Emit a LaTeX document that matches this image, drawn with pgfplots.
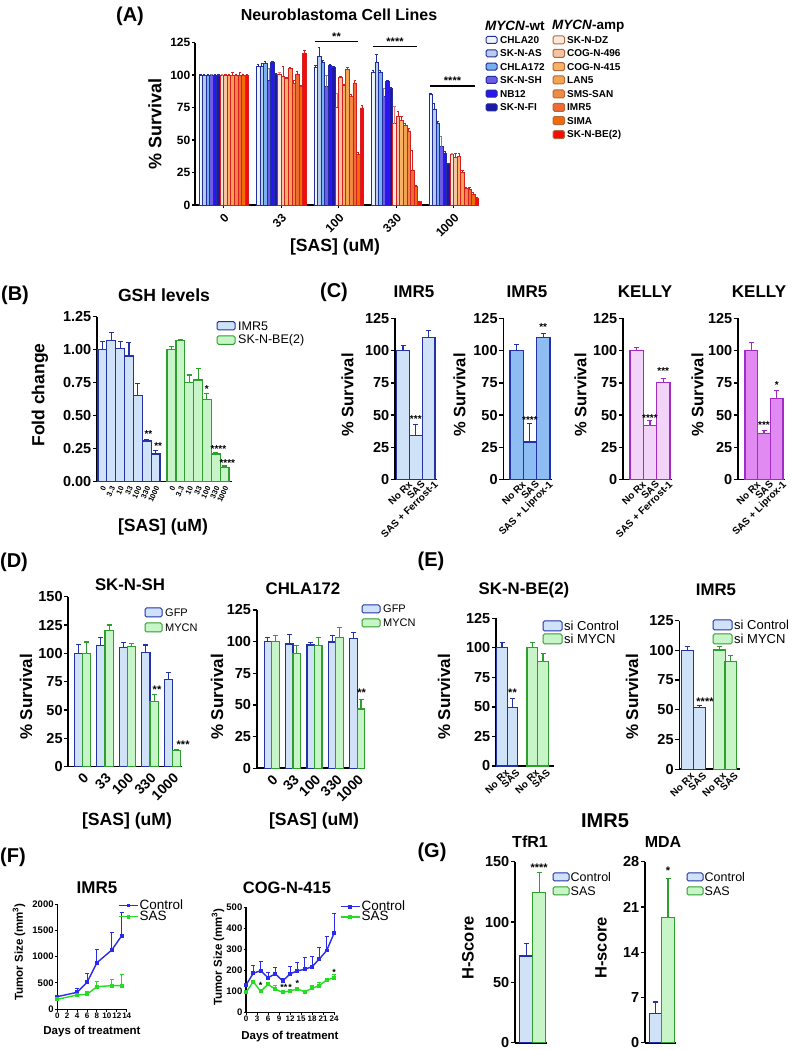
\documentclass[border=0pt]{standalone}
\usepackage{pgfplots}
\pgfplotsset{compat=1.18}
\usepackage{fontspec}
\setmainfont{Liberation Sans}
\newcommand\fsz[1]{\fontsize{#1}{#1}\selectfont}
% colours
\definecolor{bdr}{HTML}{2432A8}
\definecolor{gdr}{HTML}{2E9E2E}
\definecolor{lb}{HTML}{CFE2F8}
\definecolor{lg}{HTML}{C8F5C8}
\definecolor{mb}{HTML}{8DBDF2}
\definecolor{pdr}{HTML}{A32BC4}
\definecolor{lp}{HTML}{F2D4F8}
\definecolor{mp}{HTML}{E08AF2}
\definecolor{wtb}{HTML}{1F2F9F}
\definecolor{amb}{HTML}{D42020}
\definecolor{ambl}{HTML}{B06A40}
\definecolor{a1}{HTML}{EEF4FC}
\definecolor{a2}{HTML}{B9CDEA}
\definecolor{a3}{HTML}{78B0F0}
\definecolor{a4}{HTML}{6C5CE6}
\definecolor{a5}{HTML}{2A14F0}
\definecolor{a6}{HTML}{1E18A6}
\definecolor{b1}{HTML}{FDE8DA}
\definecolor{b2}{HTML}{F6C3A2}
\definecolor{b3}{HTML}{FAB264}
\definecolor{b4}{HTML}{F2A452}
\definecolor{b5}{HTML}{F08846}
\definecolor{b6}{HTML}{EC6C34}
\definecolor{b7}{HTML}{F46A04}
\definecolor{b8}{HTML}{F80A0A}
\definecolor{cblue}{HTML}{2B2BEE}
\definecolor{cgreen}{HTML}{22DD22}
\pgfplotsset{
  myax/.style={
    scale only axis, clip=false, anchor=south west,
    axis x line*=bottom, axis y line*=left,
    axis line style={-, line width=1.6pt, black},
    tick align=outside, major tick length=4pt,
    tick style={black, line width=1.3pt},
    ymin=0, scaled ticks=false,
    /pgf/number format/assume math mode=true,
    /pgf/number format/1000 sep={},
    yticklabel style={font=\bfseries\fsz{14.5}, inner sep=1.5pt},
    xticklabel style={font=\bfseries\fsz{14}},
  },
  eb/.style={error bars/y dir=plus, error bars/y explicit,
    error bars/error bar style={draw=#1, line width=1.1pt},
    error bars/error mark options={rotate=90, draw=#1, line width=1.1pt, mark size=2.5pt}},
  ebs/.style={error bars/y dir=plus, error bars/y explicit,
    error bars/error bar style={draw=#1, line width=0.6pt},
    error bars/error mark options={rotate=90, draw=#1, line width=0.6pt, mark size=1.2pt}},
  ebf/.style={error bars/y dir=plus, error bars/y explicit,
    error bars/error bar style={draw=#1, line width=1pt},
    error bars/error mark options={rotate=90, draw=#1, line width=1pt, mark size=2pt}},
  ctick/.style={xticklabel style={rotate=45, anchor=north east, font=\bfseries\fsz{10}, inner sep=0pt, xshift=6pt, yshift=-1pt},
    xtick style={draw=none}},
  abar/.style={ybar, bar width=3.55pt, bar shift=0pt, line width=0.7pt},
}
\newcommand\Ttl[4]{\node[font=\bfseries\fsz{#3}] at (#1,#2) {#4};}
\newcommand\Trot[4]{\node[font=\bfseries\fsz{#3}, rotate=90] at (#1,#2) {#4};}
\newcommand\Lbox[6]{\draw[line width=1pt, rounded corners=1.5pt, fill=#5, draw=#6] (#1,#2) rectangle (#3,#4);}
\newcommand\Ltxt[4]{\node[anchor=west, font=\fsz{#3}, inner sep=1pt] at (#1,#2) {#4};}
\newcommand\Lbtxt[4]{\node[anchor=west, font=\bfseries\fsz{#3}, inner sep=1pt] at (#1,#2) {#4};}
\begin{document}
\begin{tikzpicture}
\useasboundingbox (0,0) rectangle (793pt,1050pt);
\fill[white] (0,0) rectangle (793pt,1050pt);

% ---------------- Panel A ----------------
\begin{axis}[myax, at={(195pt,845pt)}, width=284pt, height=162.3pt,
  xmin=-0.5, xmax=4.44, ymax=125, ytick={0,25,...,125},
  xtick={0,...,4}, xticklabels={0,33,100,330,1000},
  yticklabel style={font=\bfseries\fsz{12}},
  xticklabel style={rotate=45, anchor=north east, font=\bfseries\fsz{12}},
  major tick length=3pt]
\addplot[abar, fill=a1, draw=wtb, ebs=wtb] coordinates {(-0.4014,100)+-(0,1) (0.5986,107)+-(0,1) (1.5986,106)+-(0,1.5) (2.5986,102.5)+-(0,1.5) (3.5986,85)+-(0,1)};
\addplot[abar, fill=a2, draw=wtb, ebs=wtb] coordinates {(-0.3396,100)+-(0,0.5) (0.6604,107)+-(0,2) (1.6604,114.7)+-(0,6.8) (2.6604,110)+-(0,6) (3.6604,74)+-(0,4.5)};
\addplot[abar, fill=a3, draw=wtb, ebs=wtb] coordinates {(-0.2779,100)+-(0,0.5) (0.7221,109)+-(0,1.5) (1.7221,109.6)+-(0,2) (2.7221,102.5)+-(0,1) (3.7221,63)+-(0,1.5)};
\addplot[abar, fill=a4, draw=wtb, ebs=gray] coordinates {(-0.2161,100)+-(0,0.5) (0.7839,96)+-(0,9) (1.7839,91)+-(0,9) (2.7839,83.5)+-(0,6.5) (3.7839,45)+-(0,8)};
\addplot[abar, fill=a5, draw=wtb, ebs=wtb] coordinates {(-0.1544,100)+-(0,0.5) (0.8456,110)+-(0,1) (1.8456,107.6)+-(0,1) (2.8456,95.4)+-(0,1) (3.8456,40)+-(0,1)};
\addplot[abar, fill=a6, draw=wtb, ebs=wtb] coordinates {(-0.0926,100)+-(0,0.5) (0.9074,101)+-(0,0.5) (1.9074,106.3)+-(0,0.5) (2.9074,90)+-(0,0.5) (3.9074,31)+-(0,1)};
\addplot[abar, fill=b1, draw=amb, ebs=amb!60] coordinates {(-0.0309,100)+-(0,0.5) (0.9691,101)+-(0,1) (1.9691,75.2)+-(0,11) (2.9691,62.5)+-(0,13.5) (3.9691,38.7)+-(0,1)};
\addplot[abar, fill=b2, draw=amb, ebs=amb] coordinates {(0.0309,100)+-(0,0.5) (1.0309,99)+-(0,8) (2.0309,98.2)+-(0,1) (3.0309,68.4)+-(0,4) (4.0309,36.7)+-(0,3)};
\addplot[abar, fill=b3, draw=amb, ebs=amb] coordinates {(0.0926,100)+-(0,0.5) (1.0926,97.5)+-(0,1) (2.0926,92)+-(0,1) (3.0926,65)+-(0,3) (4.0926,37.5)+-(0,2)};
\addplot[abar, fill=b4, draw=amb, ebs=amb] coordinates {(0.1544,100)+-(0,2) (1.1544,105)+-(0,1) (2.1544,104.3)+-(0,1.5) (3.1544,61)+-(0,2) (4.1544,25.5)+-(0,1)};
\addplot[abar, fill=b5, draw=amb, ebs=amb] coordinates {(0.2161,100)+-(0,0.5) (1.2161,94)+-(0,2) (2.2161,83.5)+-(0,2) (3.2161,57)+-(0,2) (4.2161,12.7)+-(0,1)};
\addplot[abar, fill=b6, draw=amb, ebs=amb] coordinates {(0.2779,100)+-(0,2) (1.2779,101)+-(0,2) (2.2779,93.7)+-(0,2) (3.2779,27)+-(0,15) (4.2779,12)+-(0,2)};
\addplot[abar, fill=b7, draw=amb, ebs=amb] coordinates {(0.3396,100)+-(0,0.5) (1.3396,91)+-(0,1) (2.3396,39.2)+-(0,1) (3.3396,14)+-(0,1) (4.3396,8.4)+-(0,1)};
\addplot[abar, fill=b8, draw=amb, ebs=amb] coordinates {(0.4014,100)+-(0,1) (1.4014,117)+-(0,2) (2.4014,74.7)+-(0,2) (3.4014,2.5)+-(0,0) (4.4014,5)+-(0,1)};
\end{axis}

% ---------------- Panel B ----------------
\begin{axis}[myax, at={(97pt,568.3pt)}, width=135pt, height=165pt,
  xmin=-0.61, xmax=14.63, ymax=1.25, ytick={0,0.25,...,1.25},
  yticklabel style={/pgf/number format/.cd, fixed, fixed zerofill, precision=2},
  xtick={0,1,2,3,4,5,6,7.8,8.8,9.8,10.8,11.8,12.8,13.8},
  xticklabels={0,3.3,10,33,100,330,1000,0,3.3,10,33,100,330,1000},
  xticklabel style={rotate=65, anchor=east, font=\bfseries\fsz{7.5}, inner sep=0pt, yshift=-2pt},
  xtick style={draw=none}]
\addplot[ybar, bar width=8.86pt, bar shift=0pt, fill=lb, draw=bdr, line width=1.2pt, eb=bdr] coordinates {(0,1.0)+-(0,0.06) (1,1.068)+-(0,0.06) (2,1.01)+-(0,0.05) (3,0.952)+-(0,0.10) (4,0.651)+-(0,0.09) (5,0.308)+-(0,0.012) (6,0.21)+-(0,0.025)};
\addplot[ybar, bar width=8.86pt, bar shift=0pt, fill=lg, draw=gdr, line width=1.2pt, eb=gdr] coordinates {(7.8,1.0)+-(0,0.023) (8.8,1.068)+-(0,0.01) (9.8,0.753)+-(0,0.055) (10.8,0.77)+-(0,0.09) (11.8,0.624)+-(0,0.045) (12.8,0.21)+-(0,0.01) (13.8,0.106)+-(0,0.013)};
\node[font=\bfseries\fsz{10}] at (axis cs:5.2,0.36) {**};
\node[font=\bfseries\fsz{10}] at (axis cs:6.3,0.27) {**};
\node[font=\bfseries\fsz{10}] at (axis cs:11.8,0.70) {*};
\node[font=\bfseries\fsz{10}] at (axis cs:13.1,0.25) {****};
\node[font=\bfseries\fsz{10}] at (axis cs:14.1,0.14) {****};
\end{axis}

% ---------------- Panel C ----------------
\begin{axis}[myax, ctick, at={(395pt,570.5pt)}, width=42pt, height=161pt,
  xmin=-0.63, xmax=2.66, ymax=125, ytick={0,25,...,125},
  xtick={0,1,2}, xticklabels={No Rx,SAS,SAS + Ferrost-1}]
\addplot[ybar, bar width=12.7pt, bar shift=0pt, fill=lb, draw=bdr, line width=1.3pt, eb=bdr] coordinates {(0,100)+-(0,4) (1,34)+-(0,8.5) (2,110.5)+-(0,5)};
\node[font=\bfseries\fsz{10}] at (axis cs:1,47) {***};
\end{axis}
\begin{axis}[myax, ctick, at={(503.3pt,570.5pt)}, width=48.6pt, height=161pt,
  xmin=-1.0, xmax=2.65, ymax=125, ytick={0,25,...,125},
  xtick={0,1,2}, xticklabels={No Rx,SAS,SAS + Liprox-1}]
\addplot[ybar, bar width=13.3pt, bar shift=0pt, fill=mb, draw=bdr, line width=1.3pt, eb=bdr] coordinates {(0,100)+-(0,4.5) (1,29)+-(0,14.5) (2,110)+-(0,3.5)};
\node[font=\bfseries\fsz{10}] at (axis cs:1,46) {****};
\node[font=\bfseries\fsz{10}] at (axis cs:2,118) {**};
\end{axis}
\begin{axis}[myax, ctick, at={(623pt,570.5pt)}, width=48.9pt, height=161pt,
  xmin=-1.03, xmax=2.65, ymax=125, ytick={0,25,...,125},
  xtick={0,1,2}, xticklabels={No Rx,SAS,SAS + Ferrost-1}]
\addplot[ybar, bar width=13.3pt, bar shift=0pt, fill=lp, draw=pdr, line width=1.3pt, eb=pdr] coordinates {(0,100)+-(0,2.5) (1,42)+-(0,3.5) (2,75.5)+-(0,3)};
\node[font=\bfseries\fsz{10}] at (axis cs:1,48) {****};
\node[font=\bfseries\fsz{10}] at (axis cs:2,84) {***};
\end{axis}
\begin{axis}[myax, ctick, at={(738pt,570.5pt)}, width=47.1pt, height=161pt,
  xmin=-1.05, xmax=2.66, ymax=125, ytick={0,25,...,125},
  xtick={0,1,2}, xticklabels={No Rx,SAS,SAS + Liprox-1}]
\addplot[ybar, bar width=12.7pt, bar shift=0pt, fill=mp, draw=pdr, line width=1.3pt, eb=pdr] coordinates {(0,100)+-(0,6.5) (1,35.5)+-(0,2.5) (2,63)+-(0,6)};
\node[font=\bfseries\fsz{10}] at (axis cs:1,42) {***};
\node[font=\bfseries\fsz{10}] at (axis cs:2,73) {*};
\end{axis}

% ---------------- Panel D ----------------
\begin{axis}[myax, at={(68.3pt,283.3pt)}, width=113.7pt, height=170pt,
  xmin=-0.63, xmax=4.42, ymax=150, ytick={0,25,...,150},
  xtick={0,...,4}, xticklabels={0,33,100,330,1000},
  xticklabel style={rotate=45, anchor=north east, font=\bfseries\fsz{14}, inner sep=1pt},
  xtick style={draw=none}]
\addplot[ybar, bar width=8.3pt, bar shift=0pt, fill=lb, draw=bdr, line width=1.2pt, eb=bdr] coordinates {(-0.1844,100)+-(0,8) (0.8156,106.8)+-(0,7.2) (1.8156,105)+-(0,4.7) (2.8156,100.6)+-(0,6.8) (3.8156,77)+-(0,6.2)};
\addplot[ybar, bar width=8.3pt, bar shift=0pt, fill=lg, draw=gdr, line width=1.2pt, eb=gdr] coordinates {(0.1844,100)+-(0,10) (1.1844,120)+-(0,5) (2.1844,106)+-(0,2.8) (3.1844,57.4)+-(0,6.6) (4.1844,14.1)+-(0,0.6)};
\node[font=\bfseries\fsz{11}] at (axis cs:3.31,68) {**};
\node[font=\bfseries\fsz{11}] at (axis cs:4.47,19) {***};
\end{axis}
\begin{axis}[myax, at={(256.7pt,281.7pt)}, width=108.3pt, height=158.3pt,
  xmin=-0.7, xmax=4.36, ymax=125, ytick={0,25,...,125},
  xtick={0,...,4}, xticklabels={0,33,100,330,1000},
  xticklabel style={rotate=45, anchor=north east, font=\bfseries\fsz{14}, inner sep=1pt},
  xtick style={draw=none}]
\addplot[ybar, bar width=7.5pt, bar shift=0pt, fill=lb, draw=bdr, line width=1.2pt, eb=bdr] coordinates {(-0.1752,100)+-(0,3.4) (0.8248,98.2)+-(0,7.1) (1.8248,97.4)+-(0,1.8) (2.8248,99.7)+-(0,5) (3.8248,102.4)+-(0,5)};
\addplot[ybar, bar width=7.5pt, bar shift=0pt, fill=lg, draw=gdr, line width=1.2pt, eb=gdr] coordinates {(0.1752,100)+-(0,5) (1.1752,90.5)+-(0,6.3) (2.1752,97.1)+-(0,6.3) (3.1752,103.4)+-(0,7.9) (4.1752,46.8)+-(0,7.2)};
\node[font=\bfseries\fsz{11}] at (axis cs:4.2,60) {**};
\end{axis}

% ---------------- Panel E ----------------
\begin{axis}[myax, at={(496pt,284pt)}, width=58pt, height=147.7pt,
  xmin=496, xmax=554, ymax=125, ytick={0,25,...,125},
  xtick={502,512.5,532.2,543}, xticklabels={No Rx,SAS,No Rx,SAS},
  xticklabel style={rotate=45, anchor=north east, font=\bfseries\fsz{10}, inner sep=0pt, xshift=3pt, yshift=-1pt},
  xtick style={draw=none}]
\addplot[ybar, bar width=10.6pt, bar shift=0pt, fill=lb, draw=bdr, line width=1.2pt, eb=bdr] coordinates {(502,100.5)+-(0,3.9) (512.5,49.4)+-(0,7.9)};
\addplot[ybar, bar width=10.6pt, bar shift=0pt, fill=lg, draw=gdr, line width=1.2pt, eb=gdr] coordinates {(532.2,100)+-(0,4.7) (543,88.6)+-(0,6.8)};
\node[font=\bfseries\fsz{11}] at (axis cs:512.5,62) {**};
\end{axis}
\begin{axis}[myax, at={(679.3pt,280.7pt)}, width=60.7pt, height=148.7pt,
  xmin=679.3, xmax=740, ymax=125, ytick={0,25,...,125},
  xtick={687.2,699.2,719.2,730.8}, xticklabels={No Rx,SAS,No Rx,SAS},
  xticklabel style={rotate=45, anchor=north east, font=\bfseries\fsz{10}, inner sep=0pt, xshift=3pt, yshift=-1pt},
  xtick style={draw=none}]
\addplot[ybar, bar width=11.8pt, bar shift=0pt, fill=lb, draw=bdr, line width=1.2pt, eb=bdr] coordinates {(687.2,99.8)+-(0,3.2) (699.2,52.1)+-(0,1.2)};
\addplot[ybar, bar width=11.8pt, bar shift=0pt, fill=lg, draw=gdr, line width=1.2pt, eb=gdr] coordinates {(719.2,100.3)+-(0,2.7) (730.8,90.8)+-(0,4.5)};
\node[font=\bfseries\fsz{11}] at (axis cs:705,57) {****};
\end{axis}

% ---------------- Panel F ----------------
\begin{axis}[myax, at={(57.3pt,40.7pt)}, width=69.4pt, height=105.3pt,
  xmin=0, xmax=14, ymax=2000, xtick={0,2,...,14}, ytick={0,500,...,2000},
  axis line style={line width=1.2pt}, tick style={line width=1pt}, major tick length=2.5pt,
  xticklabel style={font=\bfseries\fsz{8}, inner sep=1pt},
  yticklabel style={font=\bfseries\fsz{9.5}, inner sep=1pt},
  legend style={at={(0.875,1.05)}, anchor=north west, draw=none, fill=none,
    font=\fsz{13.5}, inner sep=0pt, row sep=-2pt, nodes={inner sep=1pt}},
  legend cell align=left,
  legend image code/.code={\draw[mark repeat=2,mark phase=2,#1] plot coordinates {(0pt,0pt) (9.5pt,0pt) (19pt,0pt)};}]
\addplot[color=cblue, line width=1.4pt, mark=square*, mark size=1.2pt, ebf=cblue] coordinates {(0,240)+-(0,0) (4,323)+-(0,77) (6,513)+-(0,158) (8,886)+-(0,241) (11,1127)+-(0,335) (13,1399)+-(0,436)};
\addlegendentry{Control}
\addplot[color=cgreen, line width=1.4pt, mark=square*, mark size=1.2pt, ebf=cgreen] coordinates {(0,190)+-(0,0) (4,272)+-(0,20) (6,285)+-(0,50) (8,430)+-(0,95) (11,449)+-(0,108) (13,449)+-(0,203)};
\addlegendentry{SAS}
\end{axis}
\begin{axis}[myax, at={(246pt,37.7pt)}, width=88pt, height=105pt,
  xmin=0, xmax=24, ymax=500, xtick={0,3,...,24}, ytick={0,100,...,500},
  axis line style={line width=1.2pt}, tick style={line width=1pt}, major tick length=2.5pt,
  xticklabel style={font=\bfseries\fsz{8}, inner sep=1pt},
  yticklabel style={font=\bfseries\fsz{9.5}, inner sep=1pt},
  legend style={at={(1.068,1.07)}, anchor=north west, draw=none, fill=none,
    font=\fsz{13.5}, inner sep=0pt, row sep=-3pt, nodes={inner sep=1pt}},
  legend cell align=left,
  legend image code/.code={\draw[mark repeat=2,mark phase=2,#1] plot coordinates {(0pt,0pt) (9.5pt,0pt) (19pt,0pt)};}]
\addplot[color=cblue, line width=1.4pt, mark=square*, mark size=1.2pt, ebf=cblue] coordinates {(0,130)+-(0,0) (2,186)+-(0,36) (4,198)+-(0,43) (6,165)+-(0,24) (8,183)+-(0,30) (10,149)+-(0,13) (12,183)+-(0,34) (14,197)+-(0,40) (16,205)+-(0,57) (18,217)+-(0,48) (20,254)+-(0,56) (22,294)+-(0,69) (24,376)+-(0,95)};
\addlegendentry{Control}
\addplot[color=cgreen, line width=1.4pt, mark=square*, mark size=1.2pt, ebf=cgreen] coordinates {(0,95)+-(0,2) (2,146)+-(0,5) (4,100)+-(0,5) (6,133)+-(0,5) (8,110)+-(0,17) (10,95)+-(0,3) (12,102)+-(0,5) (14,111)+-(0,5) (16,98)+-(0,3) (18,114)+-(0,16) (20,127)+-(0,14) (22,154)+-(0,8) (24,165)+-(0,13)};
\addlegendentry{SAS}
\node[font=\bfseries\fsz{9}] at (axis cs:4,128) {*};
\node[font=\bfseries\fsz{9}] at (axis cs:10.3,120) {**};
\node[font=\bfseries\fsz{9}] at (axis cs:12,120) {*};
\node[font=\bfseries\fsz{9}] at (axis cs:14,138) {*};
\node[font=\bfseries\fsz{9}] at (axis cs:24,192) {*};
\end{axis}

% ---------------- Panel G ----------------
\begin{axis}[myax, at={(515pt,7.3pt)}, width=32pt, height=181pt,
  xmin=515, xmax=547, ymax=150, ytick={0,50,100,150}, xtick=\empty]
\addplot[ybar, bar width=12.9pt, bar shift=0pt, fill=lb, draw=bdr, line width=1.2pt, eb=bdr] coordinates {(526.3,71.8)+-(0,10.5)};
\addplot[ybar, bar width=12.9pt, bar shift=0pt, fill=lg, draw=gdr, line width=1.2pt, eb=gdr] coordinates {(539.2,124.3)+-(0,16.6)};
\node[font=\bfseries\fsz{11}] at (axis cs:539.2,145) {****};
\end{axis}
\begin{axis}[myax, at={(645pt,7.3pt)}, width=31pt, height=181pt,
  xmin=645, xmax=676, ymax=28, ytick={0,7,14,21,28}, xtick=\empty]
\addplot[ybar, bar width=12.5pt, bar shift=0pt, fill=lb, draw=bdr, line width=1.2pt, eb=bdr] coordinates {(655.5,4.54)+-(0,1.75)};
\addplot[ybar, bar width=12.5pt, bar shift=0pt, fill=lg, draw=gdr, line width=1.2pt, eb=gdr] coordinates {(668,19.39)+-(0,6.0)};
\node[font=\bfseries\fsz{11}] at (axis cs:668,26.6) {*};
\end{axis}

% ---------------- texts (image coordinates) ----------------
\begin{scope}[x=1pt, y=-1pt, yshift=1050pt]
% A
\Ttl{130}{16}{20}{(A)}
\Ttl{339}{15}{16}{Neuroblastoma Cell Lines}
\Trot{155}{124}{18}{\% Survival}
\Ttl{335}{247}{17.6}{[SAS] (uM)}
\draw[line width=1.4pt] (315,41.7) -- (358,41.7);
\draw[line width=1.4pt] (373,46.7) -- (417,46.7);
\draw[line width=1.4pt] (430,86) -- (475,86);
\Ttl{336.5}{37}{11}{**}
\Ttl{395}{42}{11}{****}
\Ttl{452.5}{81}{11}{****}
\node[anchor=west, font=\bfseries\fsz{13.5}, inner sep=0pt] at (485,26) {\textit{MYCN}-wt};
\node[anchor=west, font=\bfseries\fsz{13.5}, inner sep=0pt] at (552,26) {\textit{MYCN}-amp};
\Lbox{486}{36.5}{497}{43.5}{a1}{wtb}
\Lbox{486}{49.8}{497}{56.8}{a2}{wtb}
\Lbox{486}{63.2}{497}{70.2}{a3}{wtb}
\Lbox{486}{76.5}{497}{83.5}{a4}{wtb}
\Lbox{486}{90.2}{497}{97.2}{a5}{wtb}
\Lbox{486}{103.8}{497}{110.8}{a6}{wtb}
\Lbtxt{499}{40}{10}{CHLA20}
\Lbtxt{499}{53.3}{10}{SK-N-AS}
\Lbtxt{499}{66.7}{10}{CHLA172}
\Lbtxt{499}{80}{10}{SK-N-SH}
\Lbtxt{499}{93.7}{10}{NB12}
\Lbtxt{499}{107.3}{10}{SK-N-FI}
\Lbox{553}{36}{564.5}{44}{b1}{ambl}
\Lbox{553}{49.3}{564.5}{57.3}{b2}{ambl}
\Lbox{553}{62.7}{564.5}{70.7}{b3}{ambl}
\Lbox{553}{76}{564.5}{84}{b4}{ambl}
\Lbox{553}{90}{564.5}{98}{b5}{ambl}
\Lbox{553}{103.3}{564.5}{111.3}{b6}{ambl}
\Lbox{553}{116.7}{564.5}{124.7}{b7}{ambl}
\Lbox{553}{130.7}{564.5}{138.7}{b8}{ambl}
\Lbtxt{566}{40}{10}{SK-N-DZ}
\Lbtxt{566}{53.3}{10}{COG-N-496}
\Lbtxt{566}{66.7}{10}{COG-N-415}
\Lbtxt{566}{80}{10}{LAN5}
\Lbtxt{566}{94}{10}{SMS-SAN}
\Lbtxt{566}{107.3}{10}{IMR5}
\Lbtxt{566}{120.7}{10}{SIMA}
\Lbtxt{566}{134.7}{10}{SK-N-BE(2)}
% B
\Ttl{15}{295}{20}{(B)}
\Ttl{164}{295}{17.6}{GSH levels}
\Trot{40}{395}{17.5}{Fold change}
\Ttl{163}{527}{17.6}{[SAS] (uM)}
\Lbox{217}{321.7}{235}{330}{lb}{bdr}
\Lbox{217}{336}{235}{344.3}{lg}{gdr}
\Ltxt{237}{326}{12.5}{IMR5}
\Ltxt{237}{340.2}{12.5}{SK-N-BE(2)}
% C
\Ttl{334}{292}{20}{(C)}
\Ttl{414}{292}{17}{IMR5}
\Ttl{527}{292}{17}{IMR5}
\Ttl{645}{292}{17}{KELLY}
\Ttl{759}{292}{17}{KELLY}
\Trot{347.5}{395}{16.5}{\% Survival}
\Trot{459.5}{395}{16.5}{\% Survival}
\Trot{580.5}{395}{16.5}{\% Survival}
\Trot{697.5}{395}{16.5}{\% Survival}
% D
\Ttl{14}{562}{20}{(D)}
\Ttl{130}{585}{16.8}{SK-N-SH}
\Ttl{303}{588.5}{16.8}{CHLA172}
\Trot{26}{697}{17}{\% Survival}
\Trot{217}{697}{17}{\% Survival}
\Ttl{127}{821}{17.6}{[SAS] (uM)}
\Ttl{314}{821}{17.6}{[SAS] (uM)}
\Lbox{145}{608}{162}{617}{lb}{bdr}
\Lbox{145}{623}{162}{632}{lg}{gdr}
\Ltxt{164}{612.5}{11}{GFP}
\Ltxt{164}{627.5}{11}{MYCN}
\Lbox{362}{605}{380}{613}{lb}{bdr}
\Lbox{362}{619}{380}{627}{lg}{gdr}
\Ltxt{382}{609}{11}{GFP}
\Ltxt{382}{623}{11}{MYCN}
% E
\Ttl{431}{561}{20}{(E)}
\Ttl{524}{590}{16.8}{SK-N-BE(2)}
\Ttl{716}{590}{16.8}{IMR5}
\Trot{444}{697}{17}{\% Survival}
\Trot{632}{697}{17}{\% Survival}
\Lbox{543}{621}{562}{631}{lb}{bdr}
\Lbox{543}{634}{562}{644}{lg}{gdr}
\Ltxt{563}{626}{13}{si Control}
\Ltxt{563}{639}{13}{si MYCN}
\Lbox{713}{620}{732}{630}{lb}{bdr}
\Lbox{713}{634}{732}{644}{lg}{gdr}
\Ltxt{733}{625}{13}{si Control}
\Ltxt{733}{639}{13}{si MYCN}
% F
\Ttl{13}{857}{20}{(F)}
\Ttl{97}{888}{17}{IMR5}
\Ttl{287}{888}{16.5}{COG-N-415}
\Trot{19}{952}{11.5}{Tumor Size (mm\textsuperscript{3})}
\Trot{218}{957}{11.5}{Tumor Size (mm\textsuperscript{3})}
\Ttl{92}{1032}{11.5}{Days of treatment}
\Ttl{290}{1037}{11.5}{Days of treatment}
% G
\Ttl{605}{821}{20}{IMR5}
\Ttl{432}{852}{20}{(G)}
\Ttl{530}{842}{16}{TfR1}
\Ttl{663}{842}{16}{MDA}
\Trot{468}{948}{16.5}{H-Score}
\Trot{601}{948}{16.5}{H-score}
\Lbox{553}{873}{569}{881}{lb}{bdr}
\Lbox{553}{887}{569}{895}{lg}{gdr}
\Ltxt{569.5}{877}{12.5}{Control}
\Ltxt{569.5}{891}{12.5}{SAS}
\Lbox{687}{873}{703}{881}{lb}{bdr}
\Lbox{687}{887}{703}{895}{lg}{gdr}
\Ltxt{703.5}{877}{12.5}{Control}
\Ltxt{703.5}{891}{12.5}{SAS}
\end{scope}
\end{tikzpicture}
\end{document}
